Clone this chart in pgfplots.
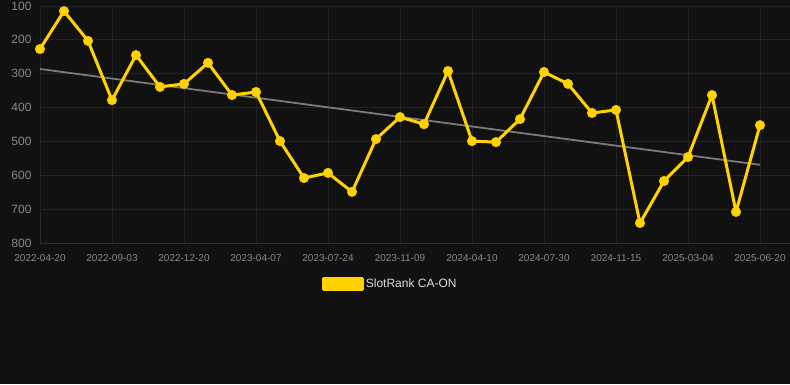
\documentclass[border=0pt]{standalone}
\usepackage{pgfplots}
\pgfplotsset{compat=1.18}
\usepackage{pgfplotstable}
\usepackage{fontspec}
\setmainfont{Liberation Sans}
\definecolor{bgc}{HTML}{111111}
\definecolor{gridc}{HTML}{232323}
\definecolor{axc}{HTML}{2C2C2C}
\definecolor{tickc}{HTML}{8A8A8A}
\definecolor{goldc}{HTML}{FFD200}
\definecolor{trendc}{HTML}{7A7A7A}
\definecolor{legc}{HTML}{DDDDDD}
\pgfplotstableread{
x y
0 227
1 115
2 203
3 378
4 245
5 339
6 330
7 268
8 363
9 354
10 499
11 608
12 593
13 649
14 493
15 428
16 449
17 292
18 499
19 502
20 434
21 295
22 330
23 416
24 407
25 741
26 617
27 546
28 363
29 708
30 452
}\ranktable
\pgfplotstableread{
x y
0 286
30 569
}\trendtable
\begin{document}
\begin{tikzpicture}[x=1pt,y=1pt]
\fill[bgc] (0,0) rectangle (790,384);
\begin{axis}[
  at={(40pt,141pt)}, anchor=south west,
  scale only axis, width=750pt, height=237pt,
  xmin=0, xmax=31.25,
  ymin=100, ymax=800, y dir=reverse,
  xtick={0,3,...,30},
  xticklabels={2022-04-20,2022-09-03,2022-12-20,2023-04-07,2023-07-24,2023-11-09,2024-04-10,2024-07-30,2024-11-15,2025-03-04,2025-06-20},
  ytick={100,200,...,800},
  grid=major,
  major grid style={gridc, line width=0.8pt},
  axis line style={draw=none},
  tick style={draw=none},
  /pgf/number format/assume math mode=true,
  x tick label style={font=\fontsize{10}{12}\selectfont, text=tickc, yshift=-8pt},
  y tick label style={font=\fontsize{12}{14}\selectfont, text=tickc, xshift=-5pt},
  clip=false,
  legend style={
    at={(0.467,-0.173)}, anchor=center,
    draw=none, fill=none,
    font=\fontsize{12}{14}\selectfont, text=legc,
  },
  legend cell align=left,
]
\draw[axc, line width=0.8pt] (axis cs:0,800) -- (axis cs:31.25,800);
\draw[axc, line width=0.8pt] (axis cs:0,800) -- ++(0,-5pt);
\addplot[trendc, line width=1.8pt, forget plot] table[x=x,y=y] {\trendtable};
\addplot[goldc, line width=3pt, line join=round, mark=*, mark size=4.8pt, mark options={solid, fill=goldc, draw=goldc, line width=0.4pt},
  legend image code/.code={\fill[goldc] (0pt,-5.5pt) rectangle (39pt,5.5pt);}]
  table[x=x,y=y] {\ranktable};
\addlegendentry{SlotRank CA-ON}
\end{axis}
\pgfresetboundingbox
\path (0,0) rectangle (790,384);
\end{tikzpicture}
\end{document}
